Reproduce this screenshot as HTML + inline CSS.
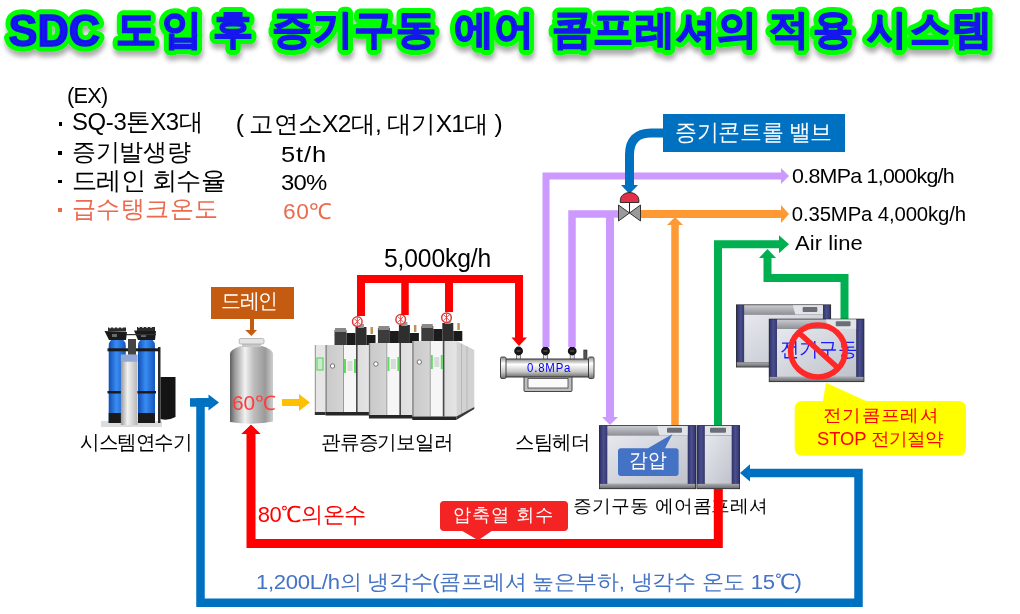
<!DOCTYPE html>
<html><head><meta charset="utf-8">
<style>
html,body{margin:0;padding:0;background:#fff;}
body{width:1020px;height:614px;position:relative;overflow:hidden;font-family:"Liberation Sans",sans-serif;color:#000;}
.t{position:absolute;white-space:nowrap;line-height:1;transform-origin:0 0;}
svg{position:absolute;left:0;top:0;}
.box{position:absolute;}
</style></head><body>

<!-- TITLE -->
<svg width="1020" height="70" style="z-index:5">
<defs><filter id="sh" x="-5%" y="-30%" width="110%" height="180%"><feGaussianBlur in="SourceAlpha" stdDeviation="2.5"/><feOffset dy="4.5" dx="1"/><feComponentTransfer><feFuncA type="linear" slope="0.33"/></feComponentTransfer><feMerge><feMergeNode/><feMergeNode in="SourceGraphic"/></feMerge></filter></defs>
<g filter="url(#sh)" font-family="Liberation Sans, sans-serif" font-weight="bold" font-size="40"><g fill="#00FF00" stroke="#00FF00" stroke-width="11.5" stroke-linejoin="round"><text font-size="44" x="8.50" y="46" textLength="91.51" lengthAdjust="spacingAndGlyphs">SDC</text><text x="115.50" y="43" textLength="86.49" lengthAdjust="spacing">도입</text><text x="213.00" y="43" textLength="40.26" lengthAdjust="spacing">후</text><text x="271.50" y="43" textLength="164.09" lengthAdjust="spacing">증기구동</text><text x="454.00" y="43" textLength="80.36" lengthAdjust="spacing">에어</text><text x="552.00" y="43" textLength="205.19" lengthAdjust="spacing">콤프레셔의</text><text x="769.00" y="43" textLength="83.54" lengthAdjust="spacing">적용</text><text x="867.00" y="43" textLength="125.11" lengthAdjust="spacing">시스템</text></g><g fill="#1212EE" stroke="#1212EE" stroke-width="1.5"><text font-size="44" x="8.50" y="46" textLength="91.51" lengthAdjust="spacingAndGlyphs">SDC</text><text x="115.50" y="43" textLength="86.49" lengthAdjust="spacing">도입</text><text x="213.00" y="43" textLength="40.26" lengthAdjust="spacing">후</text><text x="271.50" y="43" textLength="164.09" lengthAdjust="spacing">증기구동</text><text x="454.00" y="43" textLength="80.36" lengthAdjust="spacing">에어</text><text x="552.00" y="43" textLength="205.19" lengthAdjust="spacing">콤프레셔의</text><text x="769.00" y="43" textLength="83.54" lengthAdjust="spacing">적용</text><text x="867.00" y="43" textLength="125.11" lengthAdjust="spacing">시스템</text></g></g>
</svg>

<!-- EQUIPMENT + PIPES -->
<svg width="1020" height="614" style="z-index:1">
<defs>
 <linearGradient id="blueT" x1="0" x2="1" y1="0" y2="0"><stop offset="0" stop-color="#0F4FB5"/><stop offset="0.45" stop-color="#3A8CF2"/><stop offset="1" stop-color="#1556C0"/></linearGradient>
 <linearGradient id="silv" x1="0" x2="1" y1="0" y2="0"><stop offset="0" stop-color="#9A9A9A"/><stop offset="0.4" stop-color="#F2F2F2"/><stop offset="1" stop-color="#B5B5B5"/></linearGradient>
 <linearGradient id="tank" x1="0" x2="1" y1="0" y2="0"><stop offset="0" stop-color="#5E5E5E"/><stop offset="0.1" stop-color="#959595"/><stop offset="0.35" stop-color="#F2F2F2"/><stop offset="0.55" stop-color="#BDBDBD"/><stop offset="0.82" stop-color="#9A9A9A"/><stop offset="1" stop-color="#CFCFCF"/></linearGradient>
 <linearGradient id="tube" x1="0" x2="0" y1="0" y2="1"><stop offset="0" stop-color="#8A8A8A"/><stop offset="0.3" stop-color="#FFFFFF"/><stop offset="0.7" stop-color="#C8C8C8"/><stop offset="1" stop-color="#6E6E6E"/></linearGradient>
 <linearGradient id="panel" x1="0" x2="1" y1="0" y2="1"><stop offset="0" stop-color="#E6E8EE"/><stop offset="1" stop-color="#BFC2CB"/></linearGradient>
 <linearGradient id="strip" x1="0" x2="0" y1="0" y2="1"><stop offset="0" stop-color="#C9CBD0"/><stop offset="1" stop-color="#8E9096"/></linearGradient>
 <linearGradient id="base" x1="0" x2="0" y1="0" y2="1"><stop offset="0" stop-color="#A8AAAE"/><stop offset="1" stop-color="#6C6E72"/></linearGradient>
 <linearGradient id="navy" x1="0" x2="1" y1="0" y2="0"><stop offset="0" stop-color="#2E3168"/><stop offset="0.5" stop-color="#4B4F8E"/><stop offset="1" stop-color="#33366E"/></linearGradient>
 <linearGradient id="boil" x1="0" x2="1" y1="0" y2="0"><stop offset="0" stop-color="#C9C9C9"/><stop offset="1" stop-color="#E4E4E4"/></linearGradient>
 <g id="compA">
  <rect x="0" y="0" width="97" height="64" fill="#2C2C30"/>
  <rect x="0.8" y="0.8" width="7.5" height="58" fill="url(#navy)"/>
  <rect x="88.7" y="0.8" width="7.5" height="58" fill="url(#navy)"/>
  <rect x="8.3" y="0.8" width="80.4" height="9.5" fill="url(#strip)"/>
  <path d="M58 0.8 H88.7 V10.3 H60.5 Z" fill="#E2E4E8"/>
  <rect x="68" y="2.6" width="15" height="5" rx="1" fill="#6A6E78"/>
  <rect x="8.3" y="10.3" width="80.4" height="48.5" fill="url(#panel)"/>
  <rect x="0.8" y="58.8" width="95.4" height="4.4" fill="url(#base)"/>
 </g>
 <g id="compB">
  <rect x="0" y="0" width="43.5" height="64" fill="#2C2C30"/>
  <rect x="0.8" y="0.8" width="7.5" height="58" fill="url(#navy)"/>
  <rect x="35.2" y="0.8" width="7.5" height="58" fill="url(#navy)"/>
  <rect x="8.3" y="0.8" width="26.9" height="9.5" fill="#E2E4E8"/>
  <rect x="13.5" y="2.6" width="16" height="5" rx="1" fill="#6A6E78"/>
  <rect x="8.3" y="10.3" width="26.9" height="48.5" fill="url(#panel)"/>
  <rect x="0.8" y="58.8" width="42" height="4.4" fill="url(#base)"/>
 </g>
 <g id="boiler">
  <!-- machinery on top -->
  <rect x="18" y="-16" width="14" height="16" fill="#3A3A3A"/>
  <rect x="20" y="-19" width="10" height="5" fill="#6E6E6E"/>
  <rect x="32" y="-13" width="8" height="13" fill="#1E1E1E"/>
  <rect x="40" y="-18" width="9" height="18" fill="#2A2A2A"/>
  <rect x="42" y="-21" width="5" height="4" fill="#777"/>
  <rect x="49" y="-12" width="6" height="12" fill="#1A1A1A"/>
  <rect x="50" y="-20" width="3" height="7" fill="#B08040"/>
  <circle cx="43" cy="-26" r="4.3" fill="#fff" stroke="#D03030" stroke-width="1.6"/>
  <path d="M40 -29 L46 -23 M46 -29 L40 -23" stroke="#D03030" stroke-width="1"/>
  <!-- body -->
  <rect x="0" y="0" width="54" height="66" fill="url(#boil)"/>
  <rect x="0" y="0" width="2" height="66" fill="#A8A8A8"/>
  <rect x="10" y="0" width="1.5" height="66" fill="#7A7A7A"/>
  <rect x="27" y="0" width="1.5" height="66" fill="#8A8A8A"/>
  <rect x="28.5" y="0" width="11" height="66" fill="#F4F4F4"/>
  <rect x="39.5" y="0" width="1.8" height="66" fill="#505050"/>
  <rect x="28.5" y="14" width="2" height="14" fill="#5EDC5E"/>
  <rect x="37.5" y="14" width="2" height="14" fill="#5EDC5E"/>
  <rect x="32" y="16" width="4" height="10" fill="#C8D0C8"/>
  <circle cx="17.5" cy="22" r="2.3" fill="#fff" stroke="#555" stroke-width="0.9"/>
  <rect x="0" y="66" width="54" height="4" fill="#222"/>
 </g>
</defs>

<!-- water softener -->
<g>
 <rect x="101" y="421" width="61" height="6" fill="#DCDCDC"/>
 <rect x="158" y="347" width="2.5" height="76" fill="#2A2A2A"/>
 <path d="M160.5 377 H175.5 V417 Q168 421 160.5 419 Z" fill="#141414"/>
 <path d="M108.7 423 V346 Q108.7 338.6 117.2 338.6 Q125.8 338.6 125.8 346 V423 Z" fill="url(#blueT)"/>
 <rect x="108.7" y="413" width="17.1" height="10" fill="#1A1A1A"/>
 <path d="M138 423 V346 Q138 338.6 146.5 338.6 Q155 338.6 155 346 V423 Z" fill="url(#blueT)"/>
 <rect x="138" y="413" width="17" height="10" fill="#1A1A1A"/>
 <rect x="107.5" y="348.3" width="52" height="3" fill="#1A1A1A"/>
 <rect x="107.5" y="391" width="19" height="2.5" fill="#1A1A1A"/>
 <rect x="137" y="391" width="19" height="2.5" fill="#1A1A1A"/>
 <rect x="128" y="339" width="8" height="17" fill="#444"/>
 <rect x="120.9" y="354.7" width="16.6" height="70.3" fill="url(#silv)"/>
 <rect x="120.9" y="354.7" width="16.6" height="7" fill="#8FA8D8"/>
 <path d="M104.5 331 L127 332 L126 340 L109 340 Z" fill="#1A1A1A"/>
 <rect x="108" y="327.5" width="18" height="4" fill="#2A2A2A"/>
 <path d="M109 327.6 h2 M113 327.6 h2 M117 327.6 h2 M121 327.6 h2" stroke="#E8E8E8" stroke-width="1.4"/>
 <rect x="112" y="334" width="5" height="3" fill="#6A6A6A"/>
 <path d="M134 330.5 L156 331 L155 340 L138 340 Z" fill="#1A1A1A"/>
 <rect x="137" y="327" width="18" height="4" fill="#2A2A2A"/>
 <path d="M138 327.1 h2 M142 327.1 h2 M146 327.1 h2 M150 327.1 h2" stroke="#E8E8E8" stroke-width="1.4"/>
 <rect x="141" y="334" width="5" height="3" fill="#6A6A6A"/>
 <rect x="126" y="334" width="30" height="1.2" fill="#333"/>
</g>

<!-- tank -->
<g>
 <path d="M230 422 V354 Q230 349.5 241 346 H262 Q273 349.5 273 354 V421.5 Q251.5 425.5 230 422 Z" fill="url(#tank)"/>
 <rect x="242" y="343" width="19" height="4" fill="#C8C8C8"/>
 <rect x="239.2" y="338.5" width="24.8" height="5.5" rx="1.5" fill="#E4E4E4" stroke="#A0A0A0" stroke-width="0.7"/>
</g>

<!-- boilers -->
<rect x="334.5" y="330" width="12" height="15" fill="#3C3C3C"/>
<rect x="335.0" y="328" width="11" height="4" fill="#8A8A8A"/>
<rect x="346.5" y="333" width="9" height="12" fill="#1C1C1C"/>
<rect x="355.5" y="327" width="11" height="18" fill="#2E2E2E"/>
<rect x="358.0" y="324" width="6" height="4" fill="#9A9A9A"/>
<rect x="366.5" y="335" width="9" height="10" fill="#1A1A1A"/>
<rect x="370.5" y="327" width="2.5" height="7" fill="#C09050"/>
<rect x="359.5" y="325.6" width="3" height="-1.6000000000000227" fill="#777"/>
<circle cx="357.3" cy="321.6" r="4.8" fill="#fff" stroke="#E03838" stroke-width="1.5"/>
<path d="M354.3 318.6 L360.3 324.6 M360.3 318.6 L354.3 324.6 M357.3 317.6 V325.6" stroke="#E03838" stroke-width="0.9"/>
<rect x="314.8" y="345" width="10.7" height="67" fill="#E6E6E6"/>
<rect x="314.8" y="345" width="1.2" height="67" fill="#A0A0A0"/>
<rect x="317.0" y="358" width="6" height="12" fill="#CFE8CF" stroke="#5EDC5E" stroke-width="1.2"/>
<rect x="314.8" y="412" width="10.7" height="3" fill="#303030"/>
<rect x="325.5" y="345" width="44" height="67" fill="url(#boil)"/>
<rect x="325.5" y="345" width="1.3" height="67" fill="#808080"/>
<rect x="343.0" y="345" width="1" height="67" fill="#9A9A9A"/>
<rect x="344.0" y="345" width="12" height="67" fill="#F6F6F6"/>
<rect x="356.0" y="345" width="1.6" height="67" fill="#4A4A4A"/>
<rect x="344.0" y="359" width="2" height="14" fill="#62D862"/>
<rect x="354.0" y="359" width="2" height="14" fill="#62D862"/>
<rect x="347.5" y="361" width="5" height="10" fill="#D6DCD6"/>
<circle cx="332.5" cy="366" r="2.2" fill="#fff" stroke="#666" stroke-width="0.9"/>
<rect x="325.5" y="412" width="44" height="3.5" fill="#262626"/>
<rect x="377.9" y="328" width="12" height="15" fill="#3C3C3C"/>
<rect x="378.4" y="326" width="11" height="4" fill="#8A8A8A"/>
<rect x="389.9" y="331" width="9" height="12" fill="#1C1C1C"/>
<rect x="398.9" y="325" width="11" height="18" fill="#2E2E2E"/>
<rect x="401.4" y="322" width="6" height="4" fill="#9A9A9A"/>
<rect x="409.9" y="333" width="9" height="10" fill="#1A1A1A"/>
<rect x="413.9" y="325" width="2.5" height="7" fill="#C09050"/>
<rect x="402.9" y="323.4" width="3" height="-1.3999999999999773" fill="#777"/>
<circle cx="400.7" cy="319.4" r="4.8" fill="#fff" stroke="#E03838" stroke-width="1.5"/>
<path d="M397.7 316.4 L403.7 322.4 M403.7 316.4 L397.7 322.4 M400.7 315.4 V323.4" stroke="#E03838" stroke-width="0.9"/>
<rect x="368.9" y="343" width="44" height="72" fill="url(#boil)"/>
<rect x="368.9" y="343" width="1.3" height="72" fill="#808080"/>
<rect x="386.4" y="343" width="1" height="72" fill="#9A9A9A"/>
<rect x="387.4" y="343" width="12" height="72" fill="#F6F6F6"/>
<rect x="399.4" y="343" width="1.6" height="72" fill="#4A4A4A"/>
<rect x="387.4" y="357" width="2" height="14" fill="#62D862"/>
<rect x="397.4" y="357" width="2" height="14" fill="#62D862"/>
<rect x="390.9" y="359" width="5" height="10" fill="#D6DCD6"/>
<circle cx="375.9" cy="364" r="2.2" fill="#fff" stroke="#666" stroke-width="0.9"/>
<rect x="368.9" y="415" width="44" height="3.5" fill="#262626"/>
<rect x="421.3" y="326" width="12" height="15" fill="#3C3C3C"/>
<rect x="421.8" y="324" width="11" height="4" fill="#8A8A8A"/>
<rect x="433.3" y="329" width="9" height="12" fill="#1C1C1C"/>
<rect x="442.3" y="323" width="11" height="18" fill="#2E2E2E"/>
<rect x="444.8" y="320" width="6" height="4" fill="#9A9A9A"/>
<rect x="453.3" y="331" width="9" height="10" fill="#1A1A1A"/>
<rect x="457.3" y="323" width="2.5" height="7" fill="#C09050"/>
<rect x="446.3" y="321.7" width="3" height="-1.6999999999999886" fill="#777"/>
<circle cx="446.5" cy="317.7" r="4.8" fill="#fff" stroke="#E03838" stroke-width="1.5"/>
<path d="M443.5 314.7 L449.5 320.7 M449.5 314.7 L443.5 320.7 M446.5 313.7 V321.7" stroke="#E03838" stroke-width="0.9"/>
<rect x="412.3" y="341" width="44" height="75.5" fill="url(#boil)"/>
<rect x="412.3" y="341" width="1.3" height="75.5" fill="#808080"/>
<rect x="429.8" y="341" width="1" height="75.5" fill="#9A9A9A"/>
<rect x="430.8" y="341" width="12" height="75.5" fill="#F6F6F6"/>
<rect x="442.8" y="341" width="1.6" height="75.5" fill="#4A4A4A"/>
<rect x="430.8" y="355" width="2" height="14" fill="#62D862"/>
<rect x="440.8" y="355" width="2" height="14" fill="#62D862"/>
<rect x="434.3" y="357" width="5" height="10" fill="#D6DCD6"/>
<circle cx="419.3" cy="362" r="2.2" fill="#fff" stroke="#666" stroke-width="0.9"/>
<rect x="412.3" y="416.5" width="44" height="3.5" fill="#262626"/>
<path d="M456.3 341 L474.3 350 V407 L456.3 416.5 Z" fill="#D2D2D2"/>
<path d="M461.5 343.6 V413.8 M467 346.4 V410.9" stroke="#B8B8B8" stroke-width="1"/>
<path d="M456.3 416.5 L474.3 407 V409 L456.3 420 Z" fill="#3A3A3A"/>
<!-- header -->
<g>
 <rect x="516.5" y="352" width="4" height="8" fill="#E8E8E8" stroke="#555" stroke-width="0.7"/>
 <rect x="543.5" y="352" width="4" height="8" fill="#E8E8E8" stroke="#555" stroke-width="0.7"/>
 <rect x="570.2" y="352" width="4" height="8" fill="#E8E8E8" stroke="#555" stroke-width="0.7"/>
 <circle cx="518.6" cy="351" r="4.4" fill="#141414"/>
 <circle cx="545.5" cy="351" r="4.4" fill="#141414"/>
 <circle cx="572.2" cy="351" r="4.4" fill="#141414"/>
 <path d="M516.6 351 h4 M543.5 351 h4 M570.2 351 h4" stroke="#777" stroke-width="0.8"/>
 <rect x="583.8" y="350" width="3.2" height="8.5" fill="#555" stroke="#222" stroke-width="0.6"/>
 <rect x="524" y="376" width="48" height="15.5" rx="1" fill="#BDBDBD" stroke="#333" stroke-width="0.9"/>
 <rect x="528" y="378.5" width="40" height="9.5" fill="#FAFAFA" stroke="#444" stroke-width="0.8"/>
 <rect x="505" y="359" width="84" height="18" fill="url(#tube)" stroke="#333" stroke-width="1"/>
 <rect x="500.5" y="357" width="5.5" height="21.5" rx="1.5" fill="url(#tube)" stroke="#333" stroke-width="0.9"/>
 <rect x="588.5" y="357" width="5.5" height="21.5" rx="1.5" fill="url(#tube)" stroke="#333" stroke-width="0.9"/>
</g>

<!-- pipes -->
<g fill="none" stroke-linejoin="miter">
 <path d="M546 347 V176 H782" stroke="#CC99FF" stroke-width="7"/>
 <path d="M572 347 V214 H620" stroke="#CC99FF" stroke-width="7.5"/>
 <path d="M610 418 V214" stroke="#CC99FF" stroke-width="8"/>
 <path d="M640 214 H782" stroke="#FF9933" stroke-width="8"/>
 <path d="M675 425 V224" stroke="#FF9933" stroke-width="7.5"/>
 <path d="M718 425 V244.3 H781" stroke="#00B050" stroke-width="8"/>
 <path d="M844.5 320 V278 H767.5 V257" stroke="#00B050" stroke-width="8"/>
 <path d="M361 316 V279 H519 V338" stroke="#FF0000" stroke-width="8"/>
 <path d="M405 315 V279" stroke="#FF0000" stroke-width="7.5"/>
 <path d="M449 312 V279" stroke="#FF0000" stroke-width="8"/>
 <path d="M748 473 H858.5 V602.8 H200.5 V402.5 H209" stroke="#0070C0" stroke-width="8.5"/>
 <path d="M663 133 H651 Q629.5 133 629.5 155 V187" stroke="#0070C0" stroke-width="9"/>
 <rect x="190" y="398.2" width="20" height="8.5" fill="#0070C0"/>
 <path d="M282 402.5 H300" stroke="#FFC000" stroke-width="7"/>
 <path d="M252 318 V330" stroke="#C55A11" stroke-width="4"/>
</g>
<g>
 <polygon points="781,168 789,176 781,184" fill="#CC99FF"/>
 <polygon points="781,205 789,214 781,223" fill="#FF9933"/>
 <polygon points="779,235.3 789,244.3 779,253.3" fill="#00B050"/>
 <polygon points="759,258 767.5,249 776,258" fill="#00B050"/>
 <polygon points="667,225 675,217 683,225" fill="#FF9933"/>
 <polygon points="602,417 610,425 618,417" fill="#CC99FF"/>
 <polygon points="511.5,337.5 519,346 527,337.5" fill="#FF0000"/>
 <polygon points="241.5,434 251,424.7 260.5,434" fill="#FF0000"/>
 <polygon points="740,473 750,464.3 750,481.5" fill="#0070C0"/>
 <polygon points="208.5,394.5 219,402.5 208.5,410.5" fill="#0070C0"/>
 <polygon points="621,185 629.5,194 638,185" fill="#0070C0"/>
 <polygon points="299,394 310,402.5 299,411" fill="#FFC000"/>
 <polygon points="245.2,330 257,330 251.5,336" fill="#C55A11"/>
</g>
<!-- valve -->
<g stroke="#222" stroke-width="0.9">
 <path d="M629.5 213 V202" stroke-width="1"/>
 <path d="M620.3 202.5 V200 A9.3 7.5 0 0 1 638.9 200 V202.5 Z" fill="#E3304A"/>
 <polygon points="618.5,205 629.5,213 618.5,221" fill="#9A9A9A"/>
 <polygon points="640.5,205 629.5,213 640.5,221" fill="#9A9A9A"/>
</g>

<!-- steam compressor -->
<use href="#compA" x="599" y="425.1"/>
<use href="#compB" x="696.5" y="425.1"/>
<!-- electric compressors -->
<use href="#compA" x="736" y="304.4" transform="translate(736 304.4) scale(0.98 0.985) translate(-736 -304.4)"/>
<use href="#compA" x="768.8" y="318.7" transform="translate(768.8 318.7) scale(0.985 0.99) translate(-768.8 -318.7)"/>
</svg>

<!-- overlays: red bottom pipe (above label text) -->
<svg width="1020" height="614" style="z-index:4">
 <path d="M718.3 489 V543.5 H251 V433" fill="none" stroke="#FF0000" stroke-width="9"/>
 <polygon points="241.5,434 251,424.7 260.5,434" fill="#FF0000"/>
</svg>

<!-- boxes -->
<div class="box" style="left:663.2px;top:114.1px;width:181.8px;height:38.4px;background:#0070C0;z-index:5"></div>
<div class="box" style="left:211.1px;top:287.1px;width:82.9px;height:31.6px;background:#C55A11;z-index:5"></div>
<div class="box" style="left:440px;top:501px;width:128px;height:30px;background:#F42424;border-radius:4px;z-index:5"></div>

<svg width="1020" height="614" style="z-index:5">
 <polygon points="460.6,530 493.2,530 478.2,540.3" fill="#F42424"/>
 <!-- yellow bubble -->
 <path d="M802.7 401 H823 L826 382.7 L866 401 H958 Q966 401 966 409 V447.7 Q966 455.7 958 455.7 H802.7 Q794.7 455.7 794.7 447.7 V409 Q794.7 401 802.7 401 Z" fill="#FFFF00"/>
</svg>
<svg width="1020" height="614" style="z-index:7">
 <!-- prohibition -->
 <ellipse cx="817.9" cy="351" rx="27.3" ry="26" fill="none" stroke="#FF2828" stroke-width="5.6"/>
 <path d="M798 332 L838 368" stroke="#FF2828" stroke-width="5.6"/>
 <!-- gam bubble -->
 <path d="M621 448.2 H648 L672.5 434 L665 448.2 H675.6 Q678.6 448.2 678.6 451.2 V473 Q678.6 476 675.6 476 H621 Q618 476 618 473 V451.2 Q618 448.2 621 448.2 Z" fill="#4472C4"/>
</svg>

<div class="box" style="left:58.6px;top:122.4px;width:3.9px;height:3.9px;background:#000;z-index:3"></div>
<div class="box" style="left:58.2px;top:151px;width:3.8px;height:3.6px;background:#000;z-index:3"></div>
<div class="box" style="left:58.2px;top:179.5px;width:3.8px;height:3.6px;background:#000;z-index:3"></div>
<div class="box" style="left:58.2px;top:208px;width:3.8px;height:3.6px;background:#EB6A4E;z-index:3"></div>
<div class="t" style="left:67.06px;top:86.09px;font-size:23.21px;letter-spacing:-0.800px;color:#000;z-index:3;transform:scale(0.9357,0.9130)">(EX)</div>
<div class="t" style="left:72.20px;top:110.22px;font-size:23.79px;letter-spacing:-0.343px;color:#000;z-index:3;transform:scale(1.0048,0.9913)">SQ-3톤X3대</div>
<div class="t" style="left:235.80px;top:111.82px;font-size:24.63px;letter-spacing:-0.750px;color:#000;z-index:3;transform:scale(1.0000,0.9833)">( 고연소X2대, 대기X1대 )</div>
<div class="t" style="left:71.50px;top:139.70px;font-size:24.00px;letter-spacing:-0.275px;color:#000;z-index:3;transform:scale(0.9991,1.0000)">증기발생량</div>
<div class="t" style="left:281.33px;top:142.88px;font-size:23.79px;letter-spacing:0.800px;color:#000;z-index:3;transform:scale(1.0725,0.9611)">5t/h</div>
<div class="t" style="left:71.79px;top:168.31px;font-size:24.98px;letter-spacing:-0.600px;color:#000;z-index:3;transform:scale(1.0027,0.9957)">드레인 회수율</div>
<div class="t" style="left:281.39px;top:171.44px;font-size:23.76px;letter-spacing:-0.800px;color:#000;z-index:3;transform:scale(1.0068,0.9529)">30%</div>
<div class="t" style="left:71.79px;top:197.39px;font-size:24.11px;letter-spacing:0.300px;color:#EB6A4E;z-index:3;transform:scale(1.0035,1.0045)">급수탱크온도</div>
<div class="t" style="left:282.80px;top:201.06px;font-size:22.69px;letter-spacing:0.550px;color:#EB6A4E;z-index:3;transform:scale(1.0021,0.9706)">60℃</div>
<div class="t" style="left:674.85px;top:121.67px;font-size:22.55px;letter-spacing:-0.800px;color:#fff;z-index:6;transform:scale(0.9759,1.0250)">증기콘트롤 밸브</div>
<div class="t" style="left:791.80px;top:167.49px;font-size:21.46px;letter-spacing:-0.747px;color:#000;z-index:3;transform:scale(0.9988,0.9143)">0.8MPa 1,000kg/h</div>
<div class="t" style="left:791.80px;top:204.68px;font-size:20.34px;letter-spacing:-0.125px;color:#000;z-index:3;transform:scale(1.0000,0.9579)">0.35MPa 4,000kg/h</div>
<div class="t" style="left:795.20px;top:232.64px;font-size:21.78px;letter-spacing:0.086px;color:#000;z-index:3;transform:scale(1.0091,0.9313)">Air line</div>
<div class="t" style="left:383.80px;top:245.95px;font-size:24.72px;letter-spacing:-0.150px;color:#000;z-index:3;transform:scale(0.9981,1.0261)">5,000kg/h</div>
<div class="t" style="left:220.93px;top:290.64px;font-size:20.45px;letter-spacing:-0.800px;color:#fff;z-index:6;transform:scale(0.9727,1.0278)">드레인</div>
<div class="t" style="left:231.99px;top:393.14px;font-size:20.58px;letter-spacing:-0.200px;color:#FF3B3B;z-index:6;transform:scale(1.0146,0.9800)">60℃</div>
<div class="t" style="left:526.50px;top:362.34px;font-size:11.33px;letter-spacing:0.800px;color:#0000FF;z-index:6;transform:scale(1.0093,1.0625)">0.8MPa</div>
<div class="t" style="left:80.23px;top:433.01px;font-size:19.89px;letter-spacing:-0.800px;color:#000;z-index:3;transform:scale(0.9696,0.9944)">시스템연수기</div>
<div class="t" style="left:321.02px;top:432.00px;font-size:20.00px;letter-spacing:-0.800px;color:#000;z-index:3;transform:scale(0.9771,1.0000)">관류증기보일러</div>
<div class="t" style="left:515.13px;top:432.20px;font-size:20.00px;letter-spacing:-0.800px;color:#000;z-index:3;transform:scale(0.9689,1.0000)">스팀헤더</div>
<div class="t" style="left:779.50px;top:340.44px;font-size:19.44px;letter-spacing:0.100px;color:#1A1AFF;z-index:6;transform:scale(1.0041,1.0294)">전기구동</div>
<div class="t" style="left:822.94px;top:408.00px;font-size:17.78px;letter-spacing:0.800px;color:#FF0000;z-index:6;transform:scale(1.0280,0.9412)">전기콤프레셔</div>
<div class="t" style="left:817.00px;top:430.03px;font-size:18.33px;letter-spacing:0.000px;color:#FF0000;z-index:6;transform:scale(1.0000,0.9706)">STOP 전기절약</div>
<div class="t" style="left:628.66px;top:450.32px;font-size:20.56px;letter-spacing:-0.800px;color:#fff;z-index:8;transform:scale(0.9179,0.9789)">감압</div>
<div class="t" style="left:573.29px;top:497.74px;font-size:18.22px;letter-spacing:0.800px;color:#000;z-index:3;transform:scale(1.0074,0.9647)">증기구동 에어콤프레셔</div>
<div class="t" style="left:257.70px;top:504.21px;font-size:22.00px;letter-spacing:-0.400px;color:#FF0000;z-index:3;transform:scale(1.0000,0.9900)">80℃의온수</div>
<div class="t" style="left:453.30px;top:506.20px;font-size:18.63px;letter-spacing:0.180px;color:#fff;z-index:6;transform:scale(0.9990,0.9833)">압축열 회수</div>
<div class="t" style="left:256.20px;top:572.25px;font-size:22.11px;letter-spacing:-0.291px;color:#4472C4;z-index:3;transform:scale(0.9996,0.9545)">1,200L/h의 냉각수(콤프레셔 높은부하, 냉각수 온도 15℃)</div>

</body></html>
